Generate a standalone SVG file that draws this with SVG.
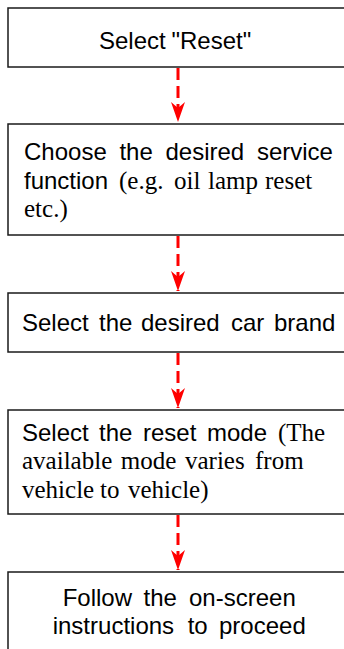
<svg xmlns="http://www.w3.org/2000/svg" width="344" height="649" viewBox="0 0 344 649">
<style>
.box{fill:#fff;stroke:#1a1a1a;stroke-width:1.5}
.s{font-family:"Liberation Sans",Arial,sans-serif;font-size:24px;fill:#000}
.t{font-family:"Liberation Serif","Times New Roman",serif;font-size:25px;fill:#000}
.c{fill:none;stroke:#ff0000;stroke-width:3;stroke-dasharray:12 6}
</style>
<defs>
<marker id="ah" viewBox="0 0 20 14" refX="20" refY="7" markerWidth="20" markerHeight="14" markerUnits="userSpaceOnUse" orient="auto">
<path d="M0,0 L20,7 L0,14 L6,7 Z" fill="#ff0000"/>
</marker>
</defs>
<rect width="344" height="649" fill="#fff"/>
<g id="connectors">
<path class="c" d="M178,68 V122" marker-end="url(#ah)"/>
<path class="c" d="M178,236 V291" marker-end="url(#ah)"/>
<path class="c" d="M178,353 V408" marker-end="url(#ah)"/>
<path class="c" d="M178,515 V570" marker-end="url(#ah)"/>
</g>
<g id="n1">
<rect class="box" x="8" y="8" width="345" height="59"/>
<text class="s" y="49"><tspan x="99">Select</tspan><tspan x="171.5">"Reset"</tspan></text>
</g>
<g id="n2">
<rect class="box" x="8" y="124" width="345" height="111"/>
<text class="s" y="160"><tspan x="24">Choose</tspan><tspan x="119.4">the</tspan><tspan x="165.5">desired</tspan><tspan x="256.9">service</tspan></text>
<text y="189"><tspan class="s" x="24">function</tspan><tspan class="t" x="119">(e.g.</tspan><tspan class="t" x="174">oil</tspan><tspan class="t" x="208">lamp</tspan><tspan class="t" x="265">reset</tspan></text>
<text class="t" x="24" y="217">etc.)</text>
</g>
<g id="n3">
<rect class="box" x="8" y="293" width="345" height="59"/>
<text class="s" y="331"><tspan x="22">Select</tspan><tspan x="99">the</tspan><tspan x="141">desired</tspan><tspan x="231">car</tspan><tspan x="274">brand</tspan></text>
</g>
<g id="n4">
<rect class="box" x="8" y="410" width="345" height="104"/>
<text y="441"><tspan class="s" x="22">Select</tspan><tspan class="s" x="99">the</tspan><tspan class="s" x="143">reset</tspan><tspan class="s" x="207">mode</tspan><tspan class="t" x="278">(The</tspan></text>
<text class="t" y="469"><tspan x="22">available</tspan><tspan x="120.7">mode</tspan><tspan x="185">varies</tspan><tspan x="255">from</tspan></text>
<text class="t" y="498"><tspan x="22">vehicle</tspan><tspan x="100">to</tspan><tspan x="128">vehicle)</tspan></text>
</g>
<g id="n5">
<rect class="box" x="8" y="572" width="345" height="90"/>
<text class="s" y="606"><tspan x="62.7">Follow</tspan><tspan x="143.5">the</tspan><tspan x="189">on-screen</tspan></text>
<text class="s" y="634"><tspan x="52.7">instructions</tspan><tspan x="187.7">to</tspan><tspan x="219">proceed</tspan></text>
</g>
</svg>
